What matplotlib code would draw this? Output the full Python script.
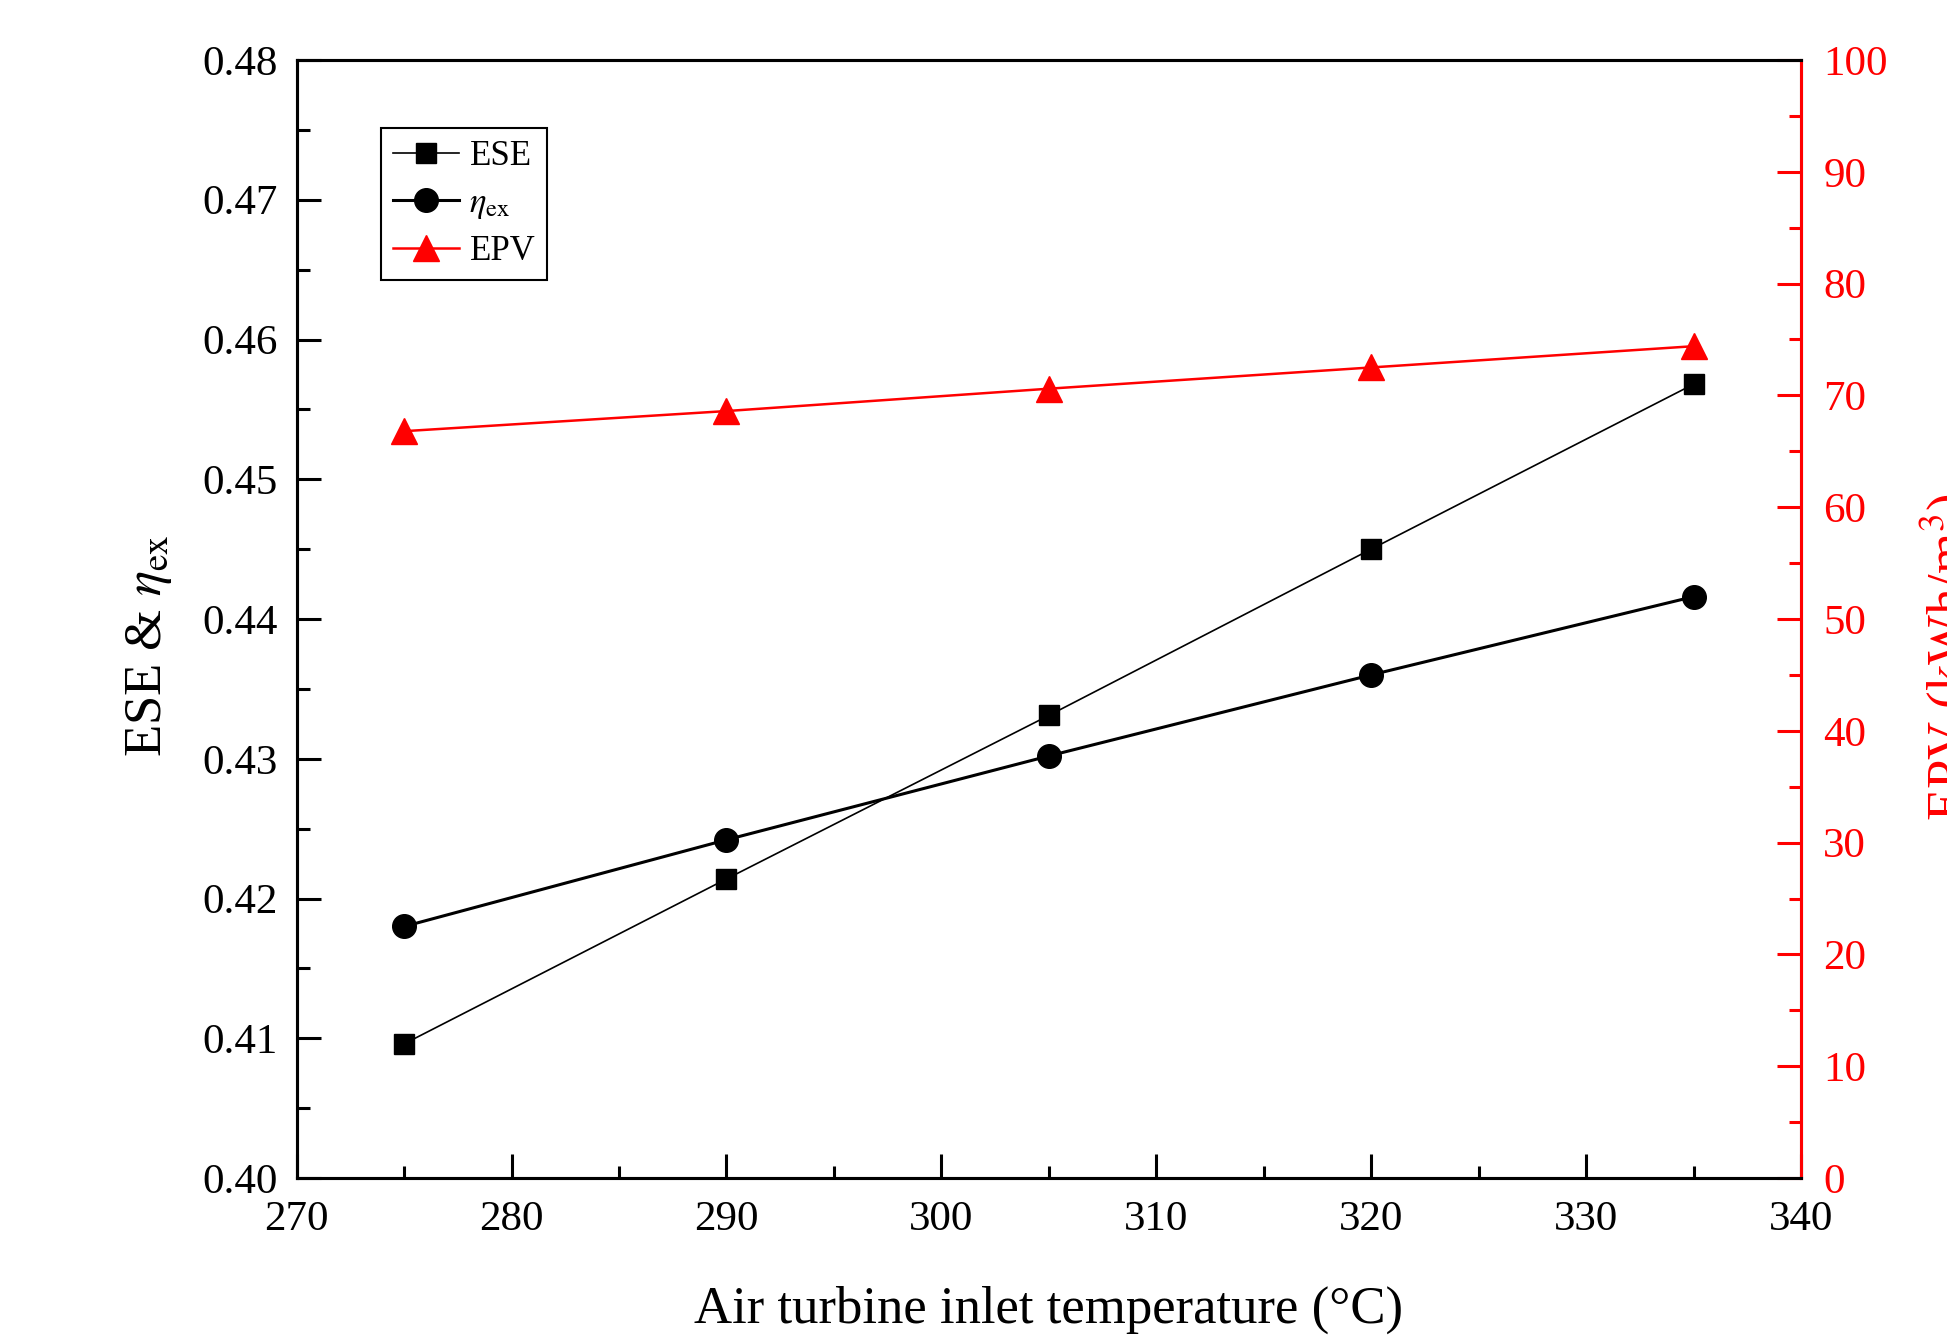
import matplotlib
matplotlib.use("Agg")
import matplotlib.pyplot as plt
from matplotlib.ticker import MultipleLocator, FormatStrFormatter

plt.rcParams['font.family'] = ['Liberation Serif', 'DejaVu Serif']
plt.rcParams['mathtext.fontset'] = 'stix'

# Data
temperature = [275, 290, 305, 320, 335]
ese = [0.4096, 0.4214, 0.4331, 0.4450, 0.4568]
eta_ex = [0.4180, 0.4242, 0.4302, 0.4360, 0.4416]
epv = [66.8, 68.6, 70.6, 72.5, 74.4]

fig = plt.figure(figsize=(19.47, 13.38), dpi=100)
left, right, top, bottom = 296.7 / 1947, 1801 / 1947, 1 - 60 / 1338, 1 - 1178 / 1338
ax = fig.add_axes([left, bottom, right - left, top - bottom])
ax2 = ax.twinx()

l1, = ax.plot(temperature, ese, color='black', lw=1.2, marker='s', ms=15)
l2, = ax.plot(temperature, eta_ex, color='black', lw=2.2, marker='o', ms=17)
l3, = ax2.plot(temperature, epv, color='red', lw=1.8, marker='^', ms=19)

ax.set_xlim(270, 340)
ax.set_ylim(0.40, 0.48)
ax2.set_ylim(0, 100)

ax.xaxis.set_major_locator(MultipleLocator(10))
ax.xaxis.set_minor_locator(MultipleLocator(5))
ax.yaxis.set_major_locator(MultipleLocator(0.01))
ax.yaxis.set_minor_locator(MultipleLocator(0.005))
ax.yaxis.set_major_formatter(FormatStrFormatter('%.2f'))
ax2.yaxis.set_major_locator(MultipleLocator(10))
ax2.yaxis.set_minor_locator(MultipleLocator(5))

for a in (ax, ax2):
    for s in a.spines.values():
        s.set_linewidth(2.2)
ax2.spines['right'].set_color('red')

ax.tick_params(which='major', direction='in', length=17, width=2.2, labelsize=31, pad=14)
ax.tick_params(which='minor', direction='in', length=9, width=2.2)
ax.tick_params(top=False, right=False, which='both')
ax.tick_params(axis='x', which='major', pad=16)
ax2.tick_params(which='major', direction='in', length=17, width=2.2, labelsize=31,
                colors='red', pad=16)
ax2.tick_params(which='minor', direction='in', length=9, width=2.2, colors='red')

ax.set_xlabel('Air turbine inlet temperature (°C)', fontsize=38, labelpad=34)
fig.text(0.0765, 0.517, r'ESE & $\eta_{\mathrm{ex}}$', rotation=90, fontsize=38,
         ha='center', va='center')
fig.text(0.985, 0.509, r'EPV (kWh/m$^3$)', rotation=90, fontsize=38, color='red',
         ha='left', va='center')

leg = ax.legend([l1, l2, l3], ['ESE', r'$\eta_{\mathrm{ex}}$', 'EPV'],
                loc='upper left', bbox_to_anchor=(0.056, 0.939), fontsize=25,
                frameon=True, fancybox=False, edgecolor='black', framealpha=1,
                handlelength=1.9, handletextpad=0.3, borderpad=0.35, labelspacing=0.4,
                borderaxespad=0)
leg.get_frame().set_linewidth(1.5)

fig.savefig('out.png', dpi=100)
